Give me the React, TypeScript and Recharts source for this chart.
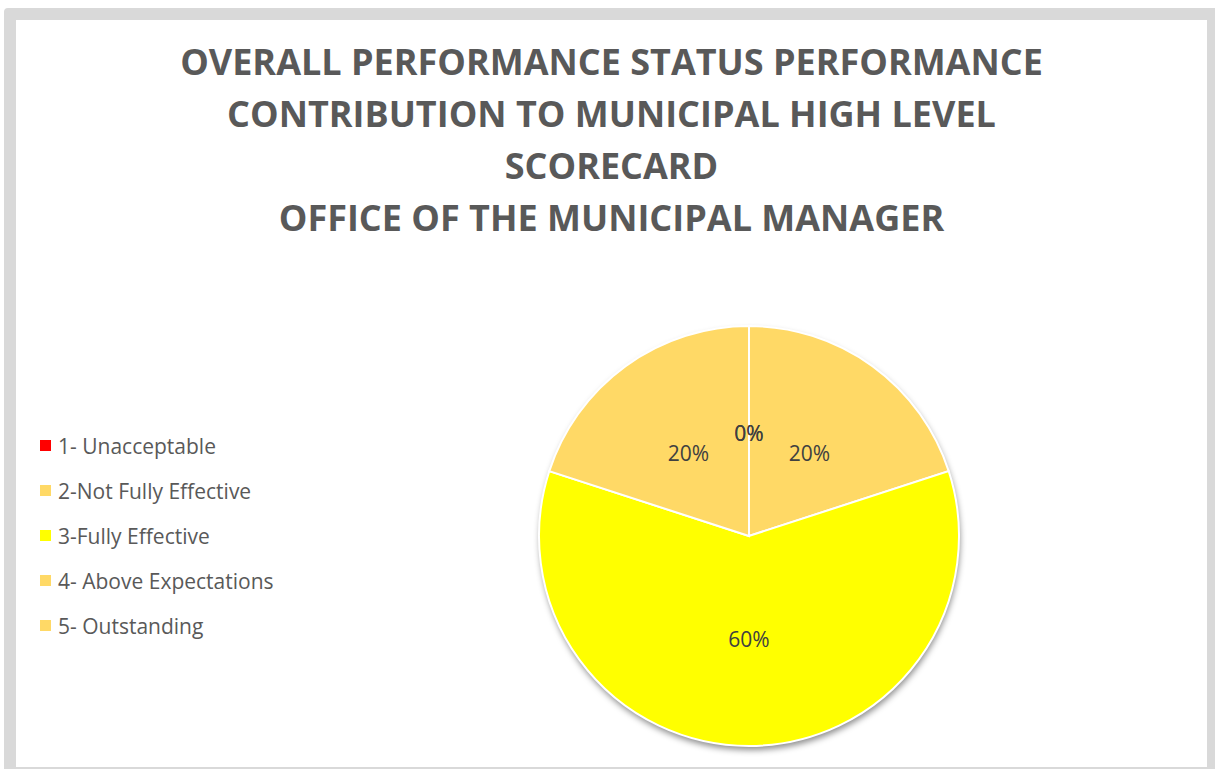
import { Cell, Legend, Pie, PieChart } from "recharts";

const categories = [
  "1- Unacceptable",
  "2-Not Fully Effective",
  "3-Fully Effective",
  "4- Above Expectations",
  "5- Outstanding",
];
const shares = [0, 20, 60, 20, 0];
const COLORS = ["#FF0000", "#FFD966", "#FFFF00", "#FFD966", "#FFD966"];
const titleLines = [
  "OVERALL PERFORMANCE STATUS PERFORMANCE",
  "CONTRIBUTION TO MUNICIPAL HIGH LEVEL",
  "SCORECARD",
  "OFFICE OF THE MUNICIPAL MANAGER",
];

const data = categories.map((name, i) => ({ name, value: shares[i] }));

const FONT = "'Open Sans', 'Noto Sans', sans-serif";
const LEGEND_W = 300;

const renderLabel = (props: any) => {
  const { cx, cy, midAngle, outerRadius, percent } = props;
  const RADIAN = Math.PI / 180;
  const r = outerRadius * 0.49;
  const x = cx + r * Math.cos(-midAngle * RADIAN);
  const y = cy + r * Math.sin(-midAngle * RADIAN);
  return (
    <text
      x={x}
      y={y}
      fill="#404040"
      textAnchor="middle"
      dominantBaseline="central"
      fontSize={21}
      fontFamily={FONT}
    >
      {`${Math.round(percent * 100)}%`}
    </text>
  );
};

const renderLegend = () => (
  <div style={{ fontFamily: FONT }}>
    {data.map((d, i) => (
      <div
        key={d.name}
        style={{
          display: "flex",
          alignItems: "center",
          height: 45,
          fontSize: 21,
          color: "#595959",
          whiteSpace: "nowrap",
        }}
      >
        <span
          style={{
            display: "inline-block",
            width: 11,
            height: 11,
            background: COLORS[i],
            marginRight: 7,
          }}
        />
        {d.name}
      </div>
    ))}
  </div>
);

export default function App() {
  return (
    <div
      style={{
        position: "absolute",
        left: 0,
        top: 0,
        width: 1215,
        height: 769,
        overflow: "hidden",
        background: "#fff",
      }}
    >
      <div
        style={{
          position: "absolute",
          left: 4,
          top: 8,
          width: 1191,
          height: 747,
          border: "12px solid #D9D9D9",
          borderRadius: 4,
          background: "#fff",
        }}
      >
        <div
          style={{
            position: "absolute",
            left: 0,
            top: 16,
            width: 1191,
            textAlign: "center",
            fontFamily: FONT,
            fontWeight: 700,
            fontSize: 36,
            lineHeight: "52px",
            color: "#595959",
          }}
        >
          {titleLines.map((t) => (
            <div key={t}>{t}</div>
          ))}
        </div>
        <div style={{ position: "absolute", left: 0, top: 0 }}>
          <PieChart
            width={1191}
            height={747}
            margin={{ top: 0, right: 0, bottom: 0, left: 0 }}
          >
            <defs>
              <filter id="pieShadow" x="-20%" y="-20%" width="140%" height="140%">
                <feGaussianBlur stdDeviation="3" />
                <feOffset dx="1" dy="4" result="o" />
              </filter>
            </defs>
            <Pie
              data={data}
              dataKey="value"
              nameKey="name"
              cx={733 - LEGEND_W}
              cy={516}
              outerRadius={210}
              startAngle={90}
              endAngle={-270}
              stroke="none"
              legendType="none"
              isAnimationActive={false}
            >
              {data.map((d) => (
                <Cell
                  key={`s-${d.name}`}
                  fill="#000"
                  fillOpacity={0.45}
                  filter="url(#pieShadow)"
                />
              ))}
            </Pie>
            <Pie
              data={data}
              dataKey="value"
              nameKey="name"
              cx={733 - LEGEND_W}
              cy={516}
              outerRadius={210}
              startAngle={90}
              endAngle={-270}
              stroke="#fff"
              strokeWidth={2}
              label={renderLabel}
              labelLine={false}
              isAnimationActive={false}
            >
              {data.map((d, i) => (
                <Cell key={`c-${d.name}`} fill={COLORS[i]} />
              ))}
            </Pie>
            <Legend
              layout="vertical"
              align="left"
              verticalAlign="top"
              content={renderLegend}
              wrapperStyle={{ left: 24, top: 403, width: LEGEND_W }}
            />
          </PieChart>
        </div>
      </div>
    </div>
  );
}
